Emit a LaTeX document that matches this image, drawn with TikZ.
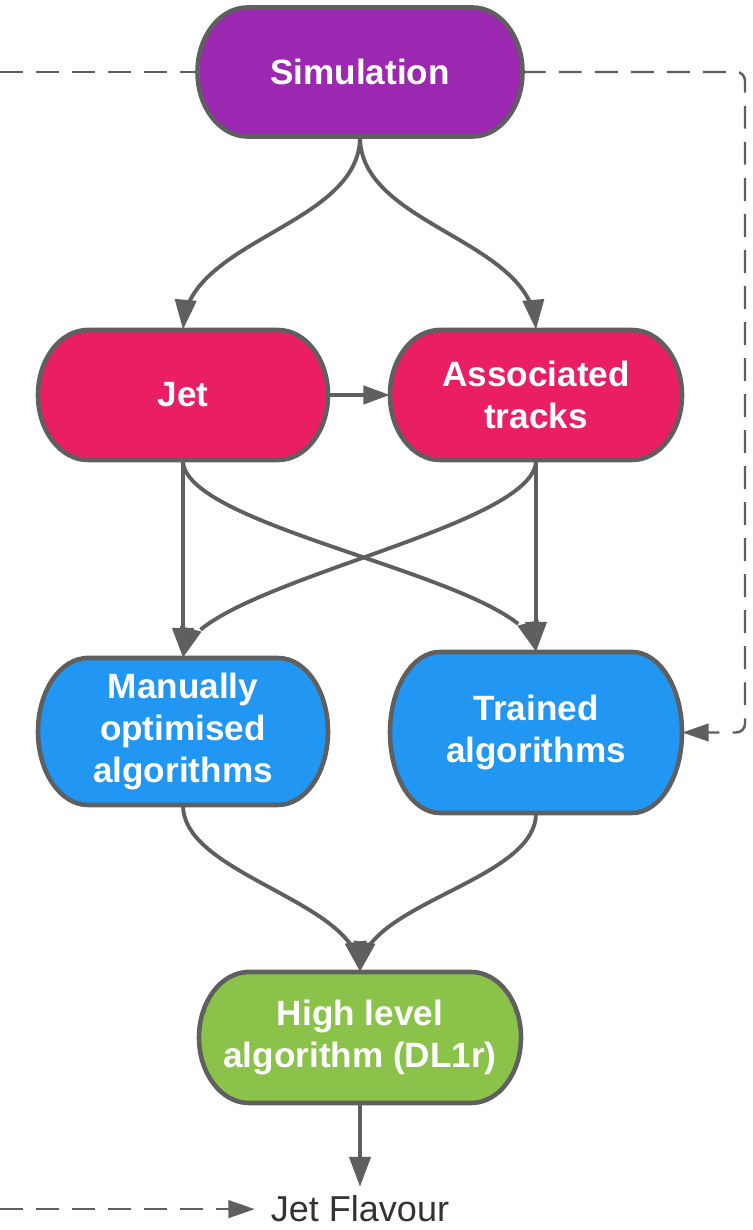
\documentclass[tikz,border=0pt]{standalone}
\usepackage{fontspec}
\setmainfont{Liberation Sans}
\usepackage{xcolor}
\usetikzlibrary{arrows.meta,bending}
\definecolor{SimPurple}{HTML}{9C27B0}
\definecolor{JetRed}{HTML}{E91E63}
\definecolor{AlgoBlue}{HTML}{2196F3}
\definecolor{HighGreen}{HTML}{8BC34A}
\definecolor{LineColor}{HTML}{5F5F5F}
\definecolor{TextColor}{HTML}{333333}
\tikzset{
	boxtext/.style={anchor=center, align=center, inner sep=0pt, text=white, font=\bfseries\fontsize{20}{24}\selectfont},
	flow/.style={draw=LineColor, line width=2.2pt, -{Triangle[flex=0.4, length=17pt, width=12pt]}},
	dashflow/.style={draw=LineColor, line width=1.4pt, dash pattern=on 13pt off 7.5pt},
}
% #1 name, #2 x, #3 y, #4 width, #5 height, #6 fill, #7 text
\newcommand{\flowbox}[7]{%
	\draw[fill=#6, draw=LineColor, line width=2.6pt] (#2-#4/2+1,#3+#5/2) -- (#2+#4/2-1,#3+#5/2)
		arc[start angle=90, end angle=-90, x radius=1, y radius=#5/2]
		-- (#2-#4/2+1,#3-#5/2)
		arc[start angle=270, end angle=90, x radius=1, y radius=#5/2] -- cycle;
	\node[boxtext, minimum width=#4cm, minimum height=#5cm] (#1) at (#2,#3) {#7};
}

\begin{document}
\begin{tikzpicture}[x=1cm,y=1cm]
	\useasboundingbox (0,0) rectangle (15.04,24.6);
	\fill[white] (0,0) rectangle (15.04,24.6);

	% Boxes
	\flowbox{sim}{7.2}{23.16}{6.5}{2.58}{SimPurple}{Simulation}
	\flowbox{jet}{3.66}{16.7}{5.8}{2.6}{JetRed}{Jet}
	\flowbox{tracks}{10.72}{16.7}{5.84}{2.6}{JetRed}{Associated\\tracks}
	\flowbox{manual}{3.66}{9.97}{5.8}{2.94}{AlgoBlue}{Manually\\optimised\\algorithms}
	\flowbox{trained}{10.72}{9.95}{5.84}{3.22}{AlgoBlue}{Trained\\algorithms}
	\flowbox{highlevel}{7.2}{3.85}{6.44}{2.62}{HighGreen}{High level\\algorithm (DL1r)}
	\node[anchor=base, inner xsep=9pt, inner ysep=5pt, text=TextColor, font=\fontsize{20.5}{24}\selectfont] (flavour) at (7.2,0.16) {Jet Flavour};

	% Loose ends of the dashed lines
	\coordinate (leftedge) at (0,0);
	\coordinate (loopcorner) at (14.9,23.16);
	\coordinate (simleft) at (sim.west -| leftedge);
	\coordinate (flavleft) at (flavour.west -| leftedge);

	% Connectors
	\draw[flow] (sim.south) to[out=-90, in=90, looseness=0.88] (jet.north);
	\draw[flow] (sim.south) to[out=-90, in=90, looseness=0.88] (tracks.north);
	\draw[flow, line width=1.9pt, -{Triangle[length=15pt, width=10.5pt]}] (jet.east) -- (tracks.west);
	\draw[flow] (jet.south) -- (manual.north);
	\draw[flow] (jet.south) to[out=-90, in=90, looseness=0.45] (trained.north);
	\draw[flow] (tracks.south) to[out=-90, in=90, looseness=0.45] (manual.north);
	\draw[flow] (tracks.south) -- (trained.north);
	\draw[flow] (manual.south) to[out=-90, in=90, looseness=0.74] (highlevel.north);
	\draw[flow] (trained.south) to[out=-90, in=90, looseness=0.74] (highlevel.north);
	\draw[flow] (highlevel.south) -- (flavour.north);

	% Dashed paths
	\draw[dashflow] (simleft) -- (sim.west);
	\draw[dashflow, rounded corners=5pt, -{Triangle[length=15pt, width=10pt]}] (sim.east) -- (loopcorner) |- (trained.east);
	\draw[dashflow, -{Triangle[length=15pt, width=10pt]}] (flavleft) -- (flavour.west);
\end{tikzpicture}
\end{document}
